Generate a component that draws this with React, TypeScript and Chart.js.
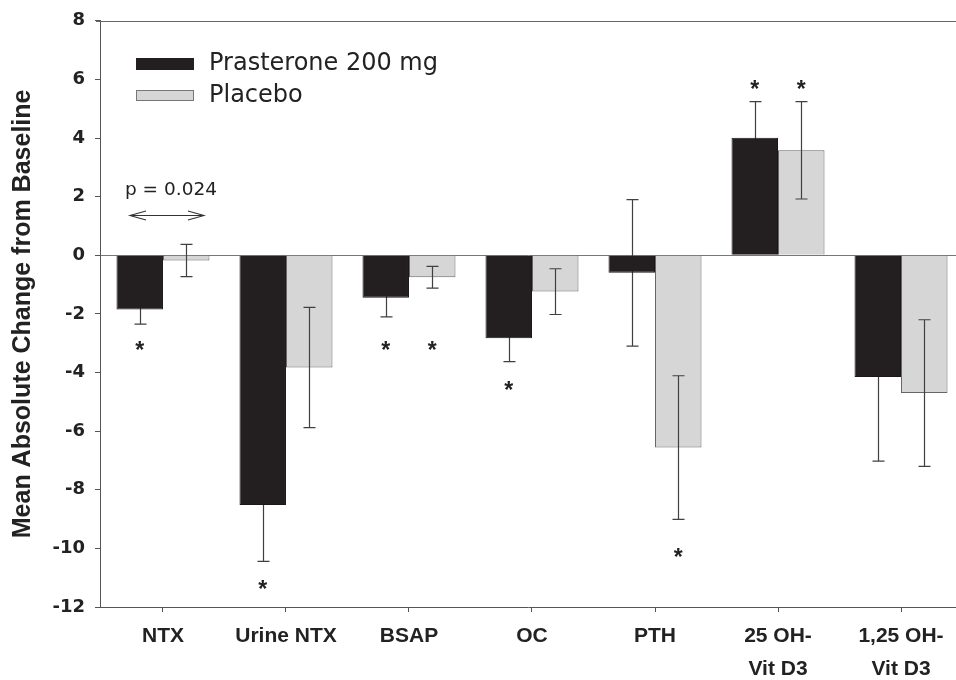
import { useEffect, useRef } from "react";
import { Chart, registerables } from "chart.js";

Chart.register(...registerables);

// ---- data ----
const categories: string[][] = [
  ["NTX"],
  ["Urine NTX"],
  ["BSAP"],
  ["OC"],
  ["PTH"],
  ["25 OH-", "Vit D3"],
  ["1,25 OH-", "Vit D3"],
];
const prasteroneMeans = [-1.85, -8.52, -1.45, -2.83, -0.6, 4.01, -4.15];
const prasteroneSE = [0.5, 1.92, 0.65, 0.8, 2.5, 1.23, 2.87];
const placeboMeans = [-0.18, -3.83, -0.75, -1.24, -6.56, 3.58, -4.7];
const placeboSE = [0.55, 2.05, 0.37, 0.78, 2.45, 1.66, 2.5];
// significance star positions (value units), null = none
const prasteroneStars: (number | null)[] = [-3.05, -11.2, -3.05, -4.4, null, 5.84, null];
const placeboStars: (number | null)[] = [null, null, -3.05, null, -10.1, 5.84, null];
const seriesNames = ["Prasterone 200 mg", "Placebo"];
const yMin = -12;
const yMax = 8;
const yStep = 2;
const yTitle = "Mean Absolute Change from Baseline";
const pLabel = "p = 0.024";

const BLACK = "#231f20";
const GRAY = "#d6d6d6";
const TEXT = "#222222";

const seList = [prasteroneSE, placeboSE];
const meanList = [prasteroneMeans, placeboMeans];
const starList = [prasteroneStars, placeboStars];

function drawErrorBars(chart: any, di: number) {
  const meta = chart.getDatasetMeta(di);
  const y = chart.scales.y;
  const ctx = chart.ctx;
  ctx.save();
  ctx.strokeStyle = "#404040";
  ctx.lineWidth = 1.2;
  meta.data.forEach((el: any, i: number) => {
    const m = meanList[di][i];
    const se = seList[di][i];
    const x = Math.round(el.x) + 0.5;
    const top = y.getPixelForValue(m + se);
    const bot = y.getPixelForValue(m - se);
    ctx.beginPath();
    ctx.moveTo(x, top);
    ctx.lineTo(x, bot);
    ctx.moveTo(x - 6, top);
    ctx.lineTo(x + 6, top);
    ctx.moveTo(x - 6, bot);
    ctx.lineTo(x + 6, bot);
    ctx.stroke();
  });
  ctx.restore();
}

const overlayPlugin = {
  id: "overlay",
  beforeDatasetsDraw(chart: any) {
    drawErrorBars(chart, 0);
  },
  afterDatasetsDraw(chart: any) {
    drawErrorBars(chart, 1);
    const ctx = chart.ctx;
    const xs = chart.scales.x;
    const ys = chart.scales.y;
    const area = chart.chartArea;

    // top frame line
    ctx.save();
    ctx.strokeStyle = "#666";
    ctx.lineWidth = 1;
    ctx.beginPath();
    ctx.moveTo(area.left - 4, Math.round(area.top) + 0.5);
    ctx.lineTo(area.right, Math.round(area.top) + 0.5);
    ctx.stroke();

    // stars
    ctx.fillStyle = TEXT;
    ctx.font = "bold 23px 'Liberation Sans', Arial, sans-serif";
    ctx.textAlign = "center";
    ctx.textBaseline = "alphabetic";
    for (let di = 0; di < 2; di++) {
      const meta = chart.getDatasetMeta(di);
      meta.data.forEach((el: any, i: number) => {
        const s = starList[di][i];
        if (s === null || s === undefined) return;
        ctx.fillText("*", el.x, ys.getPixelForValue(s) + 13.3);
      });
    }

    // p-value annotation
    ctx.font = "18.5px 'DejaVu Sans', sans-serif";
    ctx.textAlign = "left";
    ctx.fillText(pLabel, xs.getPixelForValue(-0.309), ys.getPixelForValue(2.07));
    const ax0 = xs.getPixelForValue(-0.268);
    const ax1 = xs.getPixelForValue(0.333);
    const ay = Math.round(ys.getPixelForValue(1.39)) + 0.5;
    ctx.strokeStyle = "#333";
    ctx.lineWidth = 1.1;
    ctx.beginPath();
    ctx.moveTo(ax0, ay);
    ctx.lineTo(ax1, ay);
    ctx.moveTo(ax0 + 16, ay - 4.5);
    ctx.lineTo(ax0, ay);
    ctx.lineTo(ax0 + 16, ay + 4.5);
    ctx.moveTo(ax1 - 16, ay - 4.5);
    ctx.lineTo(ax1, ay);
    ctx.lineTo(ax1 - 16, ay + 4.5);
    ctx.stroke();

    // legend
    const lx = 136;
    const lw = 58;
    ctx.fillStyle = BLACK;
    ctx.fillRect(lx, 58, lw, 12);
    ctx.fillStyle = GRAY;
    ctx.fillRect(lx, 90, lw, 11);
    ctx.strokeStyle = "#777";
    ctx.lineWidth = 1;
    ctx.strokeRect(lx + 0.5, 90.5, lw - 1, 10);
    ctx.fillStyle = TEXT;
    ctx.font = "24px 'DejaVu Sans', sans-serif";
    ctx.textBaseline = "middle";
    ctx.fillText(seriesNames[0], 209, 64);
    ctx.fillText(seriesNames[1], 209, 96);
    ctx.restore();
  },
};

export default function App() {
  const ref = useRef<HTMLCanvasElement>(null);

  useEffect(() => {
    if (!ref.current) return;
    const chart = new Chart(ref.current, {
      type: "bar",
      data: {
        datasets: [
          {
            label: seriesNames[0],
            data: prasteroneMeans.map((v, i) => ({ x: i, y: v })),
            backgroundColor: BLACK,
            borderColor: "#1a1718",
            borderWidth: 1,
          },
          {
            label: seriesNames[1],
            data: placeboMeans.map((v, i) => ({ x: i, y: v })),
            backgroundColor: GRAY,
            borderColor: "#666",
            borderWidth: 1,
          },
        ],
      } as any,
      options: {
        animation: false,
        responsive: true,
        maintainAspectRatio: false,
        categoryPercentage: 0.756,
        barPercentage: 1,
        layout: { padding: { top: 17, right: 0, left: 0, bottom: 0 } },
        plugins: {
          legend: { display: false },
          tooltip: { enabled: false },
        },
        scales: {
          x: {
            type: "linear",
            offset: false,
            min: -0.512,
            max: 6.447,
            afterFit: (s: any) => {
              s.height = 73;
            },
            afterBuildTicks: (s: any) => {
              s.ticks = categories.map((_, i) => ({ value: i }));
            },
            ticks: {
              autoSkip: false,
              maxRotation: 0,
              padding: 7,
              color: TEXT,
              font: { family: "'Liberation Sans', Arial, sans-serif", size: 21, weight: "bold", lineHeight: 1.6 },
              callback: (v: any) => categories[Math.round(Number(v))] ?? "",
            },
            grid: {
              offset: false,
              drawOnChartArea: false,
              drawTicks: true,
              tickLength: 5,
              color: "#555",
              tickColor: "#555",
            },
            border: { display: true, color: "#555", width: 1 },
          },
          y: {
            type: "linear",
            min: yMin,
            max: yMax,
            afterFit: (s: any) => {
              s.width = 100;
            },
            ticks: {
              stepSize: yStep,
              padding: 10,
              color: TEXT,
              font: { family: "'DejaVu Sans', sans-serif", size: 18, weight: "bold" },
            },
            grid: {
              drawOnChartArea: true,
              drawTicks: true,
              tickLength: 5,
              color: (c: any) => (c.tick && c.tick.value === 0 ? "#777" : "rgba(0,0,0,0)"),
              tickColor: "#555",
            },
            border: { display: true, color: "#555", width: 1 },
            title: {
              display: true,
              text: yTitle,
              color: TEXT,
              font: { family: "'Liberation Sans', Arial, sans-serif", size: 25, weight: "bold" },
              padding: { top: 8, bottom: 0 },
            },
          },
        },
      } as any,
      plugins: [overlayPlugin],
    });
    return () => chart.destroy();
  }, []);

  return (
    <div style={{ position: "absolute", left: 0, top: 0, width: 956, height: 680, background: "#fff" }}>
      <canvas ref={ref} />
    </div>
  );
}
